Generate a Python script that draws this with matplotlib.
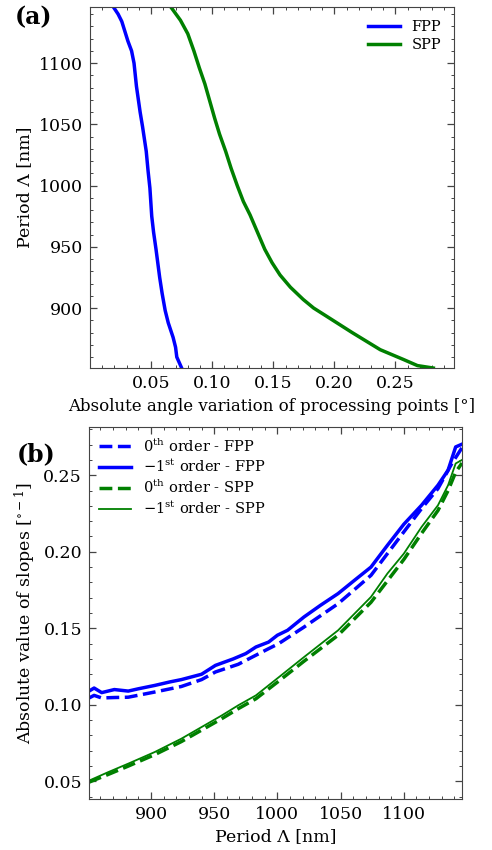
import matplotlib
matplotlib.use("Agg")
import matplotlib.pyplot as plt
from matplotlib.ticker import MultipleLocator

plt.rcParams['font.family'] = ['DejaVu Serif']
plt.rcParams['mathtext.fontset'] = 'dejavuserif'
plt.rcParams['xtick.direction'] = 'in'
plt.rcParams['ytick.direction'] = 'in'
plt.rcParams['xtick.top'] = True
plt.rcParams['ytick.right'] = True

# panel (a): angle variation vs period
fpp_period = [851, 860, 868, 876, 888, 898, 912, 925, 948, 962, 975, 998, 1012, 1028, 1048,
              1060, 1081, 1100, 1110, 1118, 1126, 1134, 1140, 1146]
fpp_angle = [0.075, 0.071, 0.070, 0.068, 0.064, 0.0615, 0.059, 0.057, 0.054, 0.052, 0.0505, 0.049,
             0.0475, 0.046, 0.043, 0.041, 0.038, 0.036, 0.034, 0.031, 0.0285, 0.026, 0.023, 0.019]

spp_period = [851, 853, 858, 866, 873, 880, 887, 894, 900, 907, 917, 927, 937, 948, 962, 976,
              987, 1000, 1014, 1028, 1042, 1055, 1069, 1083, 1096, 1110, 1124, 1135, 1146]
spp_angle = [0.281, 0.268, 0.2565, 0.2375, 0.226, 0.2145, 0.2035, 0.1925, 0.183, 0.1745, 0.164,
             0.1555, 0.149, 0.143, 0.137, 0.131, 0.1255, 0.1205, 0.1155, 0.111, 0.106, 0.102,
             0.098, 0.094, 0.0895, 0.085, 0.080, 0.074, 0.066]

# panel (b): slopes vs period
fpp1_period = [851, 855, 861, 871, 882, 890, 903, 915, 924, 940, 951, 965, 975, 983, 993, 1000,
               1008, 1021, 1034, 1048, 1061, 1074, 1087, 1100, 1114, 1127, 1135, 1141, 1146]
fpp1_slope = [0.109, 0.111, 0.108, 0.110, 0.109, 0.1105, 0.1127, 0.115, 0.1165, 0.120, 0.1258, 0.130,
              0.1335, 0.1378, 0.141, 0.1455, 0.1487, 0.1574, 0.165, 0.1727, 0.1814, 0.190, 0.2042,
              0.218, 0.2304, 0.2435, 0.2533, 0.2685, 0.2703]

fpp0_period = [851, 855, 861, 871, 882, 903, 924, 940, 951, 969, 993, 1001, 1021, 1048, 1074,
               1100, 1114, 1127, 1138, 1146]
fpp0_slope = [0.1045, 0.1062, 0.1045, 0.1048, 0.1050, 0.1084, 0.112, 0.1165, 0.1215, 0.1265,
              0.1367, 0.140, 0.1508, 0.1661, 0.1846, 0.213, 0.2282, 0.2413, 0.2577, 0.268]

spp1_period = [851, 866, 882, 903, 924, 940, 956, 969, 983, 1001, 1021, 1048, 1061, 1074, 1087,
               1100, 1114, 1127, 1135, 1141, 1146]
spp1_slope = [0.0505, 0.056, 0.0616, 0.0692, 0.0779, 0.0855, 0.0931, 0.0997, 0.1062, 0.118, 0.1312,
              0.1487, 0.1596, 0.1705, 0.1858, 0.1988, 0.2162, 0.2304, 0.2435, 0.2577, 0.260]

spp0_period = [851, 866, 882, 903, 924, 940, 956, 969, 983, 1001, 1021, 1048, 1074, 1100, 1114,
               1127, 1135, 1141, 1146]
spp0_slope = [0.0495, 0.0545, 0.060, 0.0675, 0.076, 0.0835, 0.091, 0.0975, 0.104, 0.1155, 0.1285,
              0.1455, 0.167, 0.195, 0.212, 0.227, 0.240, 0.252, 0.258]

BLUE = '#0000ff'
GREEN = '#008000'
SPINE = '#444444'


def style_axes(ax):
    for s in ax.spines.values():
        s.set_color(SPINE)
    ax.tick_params(which='major', length=5, width=0.9, color=SPINE, labelsize=12.5, pad=5)
    ax.tick_params(which='minor', length=2.5, width=0.7, color=SPINE)


fig = plt.figure(figsize=(4.92, 8.5), dpi=100)

# (a)
ax1 = fig.add_axes([0.183, 0.567, 0.740, 0.425])
ax1.plot(fpp_angle, fpp_period, color=BLUE, lw=2.5, label='FPP')
ax1.plot(spp_angle, spp_period, color=GREEN, lw=2.5, label='SPP')
ax1.set_xlim(0.0, 0.298)
ax1.set_ylim(851, 1146)
ax1.set_xticks([0.05, 0.10, 0.15, 0.20, 0.25])
ax1.xaxis.set_minor_locator(MultipleLocator(0.01))
ax1.yaxis.set_major_locator(MultipleLocator(50))
ax1.yaxis.set_minor_locator(MultipleLocator(10))
ax1.set_xlabel('Absolute angle variation of processing points [°]', fontsize=12)
ax1.set_ylabel('Period Λ [nm]', fontsize=12.5)
style_axes(ax1)
ax1.legend(loc='upper right', frameon=False, fontsize=10.5, handlelength=2.2, labelspacing=0.3)
fig.text(0.03, 0.972, '(a)', fontsize=17, fontweight='bold')

# (b)
ax2 = fig.add_axes([0.181, 0.060, 0.758, 0.4376])
ax2.plot(fpp0_period, fpp0_slope, color=BLUE, lw=2.5, ls='--', label=r'$0^{\rm th}$ order - FPP')
ax2.plot(fpp1_period, fpp1_slope, color=BLUE, lw=2.5, label=r'$-1^{\rm st}$ order - FPP')
ax2.plot(spp0_period, spp0_slope, color=GREEN, lw=2.5, ls='--', label=r'$0^{\rm th}$ order - SPP')
ax2.plot(spp1_period, spp1_slope, color=GREEN, lw=1.3, label=r'$-1^{\rm st}$ order - SPP')
ax2.set_xlim(851, 1146)
ax2.set_ylim(0.0385, 0.2815)
ax2.xaxis.set_major_locator(MultipleLocator(50))
ax2.xaxis.set_minor_locator(MultipleLocator(10))
ax2.set_yticks([0.05, 0.10, 0.15, 0.20, 0.25])
ax2.yaxis.set_minor_locator(MultipleLocator(0.01))
ax2.set_xlabel('Period Λ [nm]', fontsize=12.5)
ax2.set_ylabel(r'Absolute value of slopes [$^{\circ-1}$]', fontsize=12.5)
style_axes(ax2)
ax2.legend(loc='upper left', frameon=False, fontsize=10.5, handlelength=2.2, labelspacing=0.25,
           borderaxespad=0.3)
fig.text(0.035, 0.457, '(b)', fontsize=17, fontweight='bold')

fig.savefig('out.png', dpi=100)
